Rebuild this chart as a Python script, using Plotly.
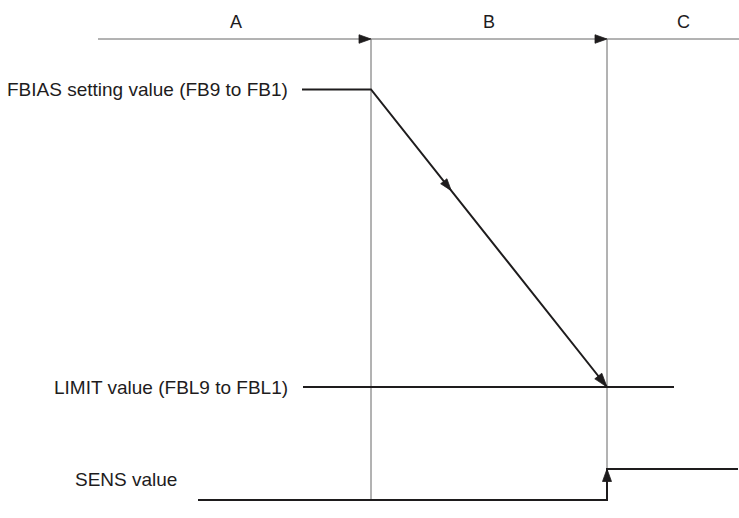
import math
import plotly.graph_objects as go

# ---- data (diagram coordinates: x = time axis, y = level, origin top-left) ----
phase_names = ["A", "B", "C"]
phase_label_x = [236, 489, 683]
phase_label_y = 22
timeline_x = [98, 371, 607, 739]        # start, A->B, B->C, end
timeline_y = 39

signal_names = ["FBIAS setting value (FB9 to FB1)",
                "LIMIT value (FBL9 to FBL1)",
                "SENS value"]
signal_label_y = [89.5, 387, 479]
label_right_x = [290, 290, 179]

fbias_x = [302, 371, 607]
fbias_y = [89.5, 89.5, 387]
limit_x = [303, 674]
limit_y = [387, 387]
sens_x = [198, 607, 607, 738]
sens_y = [500, 500, 469, 469]

vline_x = [371, 607]
vline_bottom = [500, 469]

DARK = "#1e1c1d"
GRAY = "#666666"
FONT = "Liberation Sans, Arial, sans-serif"

fig = go.Figure()


def line(xs, ys, color, width):
    fig.add_trace(go.Scatter(x=xs, y=ys, mode="lines",
                             line=dict(color=color, width=width),
                             hoverinfo="skip", showlegend=False))


def head(tip, frm, length=12, width=8, color=DARK):
    dx, dy = tip[0] - frm[0], tip[1] - frm[1]
    d = math.hypot(dx, dy)
    ux, uy = dx / d, dy / d
    bx, by = tip[0] - ux * length, tip[1] - uy * length
    px, py = -uy * width / 2, ux * width / 2
    xs = [tip[0], bx + px, bx - px, tip[0]]
    ys = [tip[1], by + py, by - py, tip[1]]
    fig.add_trace(go.Scatter(x=xs, y=ys, mode="lines", fill="toself",
                             fillcolor=color, line=dict(color=color, width=0.8),
                             hoverinfo="skip", showlegend=False))


# timeline
line([timeline_x[0], timeline_x[-1]], [timeline_y, timeline_y], GRAY, 1)
head((timeline_x[1], timeline_y), (timeline_x[0], timeline_y), length=12, width=8.5)
head((timeline_x[2], timeline_y), (timeline_x[1], timeline_y), length=12, width=8.5)

# vertical phase boundaries
for vx, vb in zip(vline_x, vline_bottom):
    line([vx, vx], [timeline_y, vb], GRAY, 1)

# signals
line(fbias_x, fbias_y, DARK, 2)
mid_t = 0.34
mid = (fbias_x[1] + (fbias_x[2] - fbias_x[1]) * mid_t,
       fbias_y[1] + (fbias_y[2] - fbias_y[1]) * mid_t)
head(mid, (fbias_x[1], fbias_y[1]), length=12, width=8)
head((fbias_x[2], fbias_y[2]), (fbias_x[1], fbias_y[1]), length=14, width=9)

line(limit_x, limit_y, DARK, 2)

line(sens_x, sens_y, DARK, 2)
head((sens_x[2], sens_y[2]), (sens_x[1], sens_y[1]), length=12.5, width=9)

# text
for name, lx in zip(phase_names, phase_label_x):
    fig.add_annotation(x=lx, y=phase_label_y, text=name, showarrow=False,
                       xanchor="center", yanchor="middle",
                       font=dict(family=FONT, size=18, color=DARK))
for name, ly, rx in zip(signal_names, signal_label_y, label_right_x):
    fig.add_annotation(x=rx, y=ly, text=name, showarrow=False,
                       xanchor="right", yanchor="middle",
                       font=dict(family=FONT, size=19, color=DARK))

fig.update_layout(width=739, height=518,
                  margin=dict(l=0, r=0, t=0, b=0),
                  paper_bgcolor="white", plot_bgcolor="white",
                  xaxis=dict(range=[0, 739], visible=False, fixedrange=True),
                  yaxis=dict(range=[518, 0], visible=False, fixedrange=True),
                  showlegend=False)

fig.write_html("out.html", config={"displayModeBar": False},
               post_script="document.body.style.margin='0';")
